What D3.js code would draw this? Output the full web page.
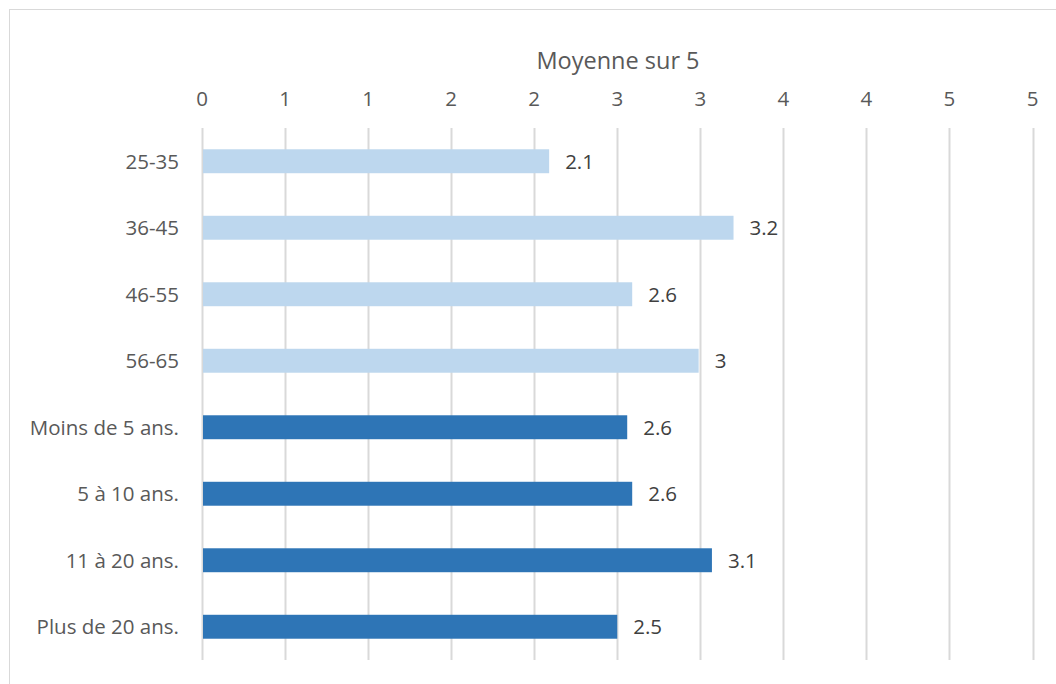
<!DOCTYPE html>
<html>
<head>
<meta charset="utf-8">
<script src="https://cdn.jsdelivr.net/npm/d3@7"></script>
<style>
body{margin:0;background:#fff;}
text{font-family:"Open Sans",sans-serif;}
</style>
</head>
<body>
<script>
var categories = ["25-35","36-45","46-55","56-65","Moins de 5 ans.","5 à 10 ans.","11 à 20 ans.","Plus de 20 ans."];
var values = [2.09, 3.2, 2.59, 2.99, 2.56, 2.59, 3.07, 2.5];
var groups = ["age","age","age","age","anc","anc","anc","anc"];
var tickValues = [0,0.5,1,1.5,2,2.5,3,3.5,4,4.5,5];
var colors = {age:"#BDD7EE", anc:"#2E75B6"};

var width = 1056, height = 684;
var margin = {left:202, right:23.5, top:128, bottom:24};

var svg = d3.select("body").append("svg")
	.attr("width", width)
	.attr("height", height);

svg.append("rect")
	.attr("x", 9.5).attr("y", 9.5)
	.attr("width", width + 20).attr("height", height + 20)
	.attr("fill", "#fff")
	.attr("stroke", "#d9d9d9");

var x = d3.scaleLinear().domain([0,5]).range([margin.left, width - margin.right]);
var y = d3.scaleBand().domain(categories).range([margin.top, height - margin.bottom]).paddingInner(0.64).paddingOuter(0.32);

// gridlines
svg.selectAll("line.grid")
		.data(tickValues)
	.enter().append("line")
		.attr("class","grid")
		.attr("x1", function(d){return Math.round(x(d)) + 0.5;})
		.attr("x2", function(d){return Math.round(x(d)) + 0.5;})
		.attr("y1", margin.top)
		.attr("y2", height - margin.bottom)
		.attr("stroke", "#d9d9d9")
		.attr("stroke-width", 2);

// tick labels (rounded like the original)
svg.selectAll("text.tick")
		.data(tickValues)
	.enter().append("text")
		.attr("class","tick")
		.attr("x", function(d){return x(d);})
		.attr("y", 106)
		.attr("text-anchor","middle")
		.attr("font-size", 20.5)
		.attr("fill", "#595959")
		.text(function(d){return d3.format(".0f")(d);});

svg.append("text")
	.attr("x", 618).attr("y", 69)
	.attr("text-anchor","middle")
	.attr("font-size", 23.5)
	.attr("fill", "#595959")
	.text("Moyenne sur 5");

var rows = categories.map(function(c,i){return {cat:c, v:values[i], g:groups[i]};});

svg.selectAll("rect.bar")
		.data(rows)
	.enter().append("rect")
		.attr("class","bar")
		.attr("x", x(0) + 1)
		.attr("y", function(d){return y(d.cat);})
		.attr("width", function(d){return x(d.v) - x(0) - 1;})
		.attr("height", y.bandwidth())
		.attr("fill", function(d){return colors[d.g];});

svg.selectAll("text.val")
		.data(rows)
	.enter().append("text")
		.attr("class","val")
		.attr("x", function(d){return x(d.v) + 16;})
		.attr("y", function(d){return y(d.cat) + y.bandwidth()/2;})
		.attr("dy", "0.36em")
		.attr("font-size", 20.5)
		.attr("fill", "#404040")
		.text(function(d){return d3.format(".1~f")(d.v);});

svg.selectAll("text.cat")
		.data(rows)
	.enter().append("text")
		.attr("class","cat")
		.attr("x", 179)
		.attr("y", function(d){return y(d.cat) + y.bandwidth()/2;})
		.attr("dy", "0.36em")
		.attr("text-anchor","end")
		.attr("font-size", 20.5)
		.attr("fill", "#595959")
		.text(function(d){return d.cat;});
</script>
</body>
</html>
